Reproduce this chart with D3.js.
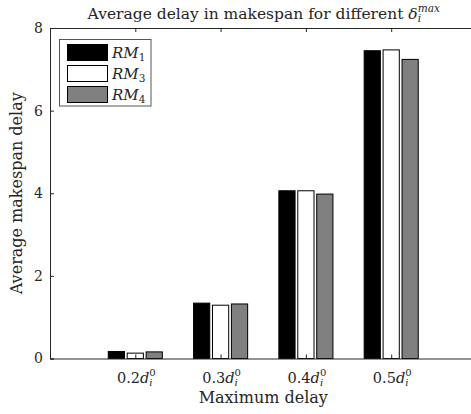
<!DOCTYPE html>
<html>
<head>
<meta charset="utf-8">
<script src="https://cdn.jsdelivr.net/npm/d3@7"></script>
<style>
  html, body { margin: 0; padding: 0; background: #fff; }
  svg { display: block; }
  text { font-family: "DejaVu Serif", "Liberation Serif", serif; fill: #262626; }
</style>
</head>
<body>
<svg id="chart" width="471" height="414"></svg>
<script>
// Maximum delay levels (coefficient of d_i^0)
const categories = ["0.2", "0.3", "0.4", "0.5"];
// Series names (rescheduling methods)
const seriesNames = ["1", "3", "4"];
// Average makespan delay per method, one value per category
const rm1 = [0.17, 1.34, 4.06, 7.45];
const rm3 = [0.13, 1.29, 4.06, 7.47];
const rm4 = [0.16, 1.32, 3.98, 7.24];
const yTicks = [0, 2, 4, 6, 8];

const series = [rm1, rm3, rm4];
const fills = ["#000000", "#ffffff", "#808080"];
const FONT = "DejaVu Serif, Liberation Serif, serif";

const svg = d3.select("#chart");
const margin = { left: 50, top: 28, right: 476.5, bottom: 358.5 };

const x = d3.scaleLinear().domain([0, categories.length + 1]).range([margin.left, margin.right]);
const y = d3.scaleLinear().domain([0, 8]).range([margin.bottom, margin.top]);

const barW = 0.19;       // bar width in category units
const barStep = 0.222;   // spacing between bars within a group

// Bars
series.forEach((vals, s) => {
  svg.append("g").selectAll("rect")
    .data(vals)
    .join("rect")
    .attr("x", (d, i) => x(i + 1 + (s - 1) * barStep - barW / 2))
    .attr("width", x(barW) - x(0))
    .attr("y", d => y(d))
    .attr("height", d => y(0) - y(d))
    .attr("fill", fills[s])
    .attr("stroke", "#000")
    .attr("stroke-width", 1);
});

// Axes (MATLAB-style inward ticks)
const axisColor = "#262626";
const yAxis = d3.axisLeft(y).tickValues(yTicks).tickSize(-4).tickPadding(7).tickFormat(d3.format("d"));
const gy = svg.append("g").attr("transform", `translate(${margin.left},0)`).call(yAxis);
gy.select(".domain").attr("stroke", axisColor);
gy.selectAll(".tick line").attr("stroke", axisColor);
gy.selectAll(".tick text").attr("font-size", 14).attr("fill", axisColor)
  .attr("font-family", FONT);

const xTickVals = categories.map((c, i) => i + 1);
const xAxis = d3.axisBottom(x).tickValues(xTickVals).tickSize(-4).tickFormat("");
const gx = svg.append("g").attr("transform", `translate(0,${margin.bottom})`).call(xAxis);
gx.select(".domain").attr("stroke", axisColor);
gx.selectAll(".tick line").attr("stroke", axisColor);

const xTop = d3.axisTop(x).tickValues(xTickVals).tickSize(-4).tickFormat("");
const gt = svg.append("g").attr("transform", `translate(0,${margin.top})`).call(xTop);
gt.select(".domain").attr("stroke", axisColor);
gt.selectAll(".tick line").attr("stroke", axisColor);

// Center a multi-part text element horizontally on cx using its rendered box
function centerOn(sel, cx) {
  sel.attr("x", 0);
  const b = sel.node().getBBox();
  sel.attr("x", cx - b.x - b.width / 2);
}

// x tick labels: 0.2 d_i^0
categories.forEach((c, i) => {
  const t = svg.append("text")
    .attr("y", 383)
    .attr("font-size", 14.5);
  t.append("tspan").text(c);
  t.append("tspan").attr("font-style", "italic").text("d");
  const sub = t.append("tspan").attr("font-style", "italic").attr("font-size", 10).attr("dy", 3).text("i");
  const subW = sub.node().getComputedTextLength();
  t.append("tspan").attr("font-size", 10).attr("dx", -subW).attr("dy", -10).text("0");
  centerOn(t, x(i + 1) + 1);
});

// Axis titles
svg.append("text")
  .attr("x", x(2.5)).attr("y", 403)
  .attr("text-anchor", "middle").attr("font-size", 16)
  .text("Maximum delay");

svg.append("text")
  .attr("transform", `translate(22,${y(4)}) rotate(-90)`)
  .attr("text-anchor", "middle").attr("font-size", 16)
  .text("Average makespan delay");

// Title
const title = svg.append("text").attr("y", 19).attr("font-size", 15.5);
title.append("tspan").text("Average delay in makespan for different ");
title.append("tspan").attr("font-style", "italic").text("δ");
const tSub = title.append("tspan").attr("font-style", "italic").attr("font-size", 10.5).attr("dy", 3).text("i");
const tSubW = tSub.node().getComputedTextLength();
title.append("tspan").attr("font-style", "italic").attr("font-size", 10.5).attr("dx", -tSubW).attr("dy", -10.5).text("max");
centerOn(title, x(2.5));

// Legend
const lg = svg.append("g");
lg.append("rect")
  .attr("x", 59.5).attr("y", 39.5).attr("width", 91.5).attr("height", 66.5)
  .attr("fill", "#fff").attr("stroke", "#555").attr("stroke-width", 1);
seriesNames.forEach((n, s) => {
  const yy = 44.5 + s * 21;
  lg.append("rect")
    .attr("x", 67.5).attr("y", yy).attr("width", 40).attr("height", 16)
    .attr("fill", fills[s]).attr("stroke", "#000").attr("stroke-width", 1);
  const t = lg.append("text").attr("x", 112).attr("y", yy + 13).attr("font-size", 15);
  t.append("tspan").attr("font-style", "italic").text("RM");
  t.append("tspan").attr("font-size", 10.5).attr("dy", 3).text(n);
});
</script>
</body>
</html>
